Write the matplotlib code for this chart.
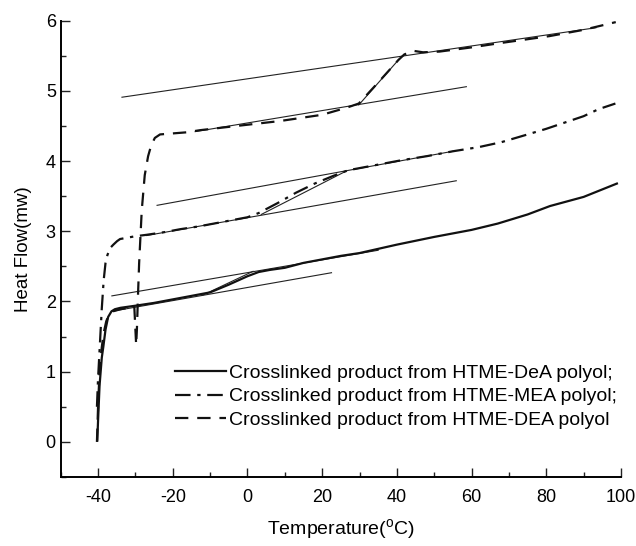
# DSC curves of crosslinked HTME polyol products
import matplotlib
matplotlib.use('Agg')
import matplotlib.pyplot as plt
from matplotlib.ticker import MultipleLocator

plt.rcParams['font.family'] = ['Liberation Sans', 'DejaVu Sans']
plt.rcParams['mathtext.fontset'] = 'custom'
plt.rcParams['mathtext.rm'] = 'Liberation Sans'
plt.rcParams['axes.unicode_minus'] = False

#----------------------
# Data
#----------------------

# HTME-DeA (solid)
dea_x = [-40.2, -40.0, -39.6, -39.0, -38.6, -38.0, -37.3, -36.4, -35.5, -34.0,
         -30.0, -25.0, -20.0, -15.0, -10.0, -5.0, 0.0, 3.0, 6.0, 10.0, 15.0,
         20.0, 25.0, 30.0, 40.0, 50.0, 60.0, 67.0, 75.0, 81.0, 90.0, 98.9]
dea_y = [0.02, 0.30, 0.80, 1.20, 1.35, 1.60, 1.78, 1.86, 1.89, 1.91,
         1.94, 1.98, 2.03, 2.08, 2.13, 2.24, 2.36, 2.42, 2.45, 2.48, 2.55,
         2.60, 2.65, 2.69, 2.81, 2.92, 3.02, 3.11, 3.24, 3.36, 3.49, 3.68]

# HTME-MEA (dash-dot)
mea_x = [-40.3, -40.0, -39.5, -39.0, -38.5, -38.0, -37.5, -36.8, -35.9, -34.9,
         -34.1, -30.0, -27.0, -22.0, -18.0, -13.0, -8.0, -3.0, 0.0, 3.0, 8.0,
         13.0, 18.0, 23.0, 27.0, 30.0, 35.0, 41.0, 48.0, 55.0, 62.0, 68.0,
         75.0, 80.0, 85.0, 90.0, 94.0, 98.5]
mea_y = [0.50, 0.90, 1.40, 1.90, 2.30, 2.55, 2.66, 2.76, 2.81, 2.86,
         2.89, 2.93, 2.95, 2.99, 3.03, 3.07, 3.12, 3.17, 3.20, 3.26, 3.40,
         3.55, 3.68, 3.79, 3.87, 3.90, 3.95, 4.01, 4.07, 4.14, 4.20, 4.27,
         4.38, 4.46, 4.55, 4.64, 4.74, 4.82]

# HTME-DEA (dashed)
dea2_x = [-40.3, -40.0, -39.6, -39.0, -38.5, -37.8, -37.0, -36.0, -34.0, -32.0,
          -30.3, -30.0, -29.8, -29.6, -29.3, -29.0, -28.3, -27.5, -26.6, -25.8,
          -24.8, -23.4, -16.3, -12.75, -3.0, 8.6, 20.0, 26.5, 29.8, 35.0,
          40.4, 42.0, 44.5, 47.0, 51.4, 60.0, 67.5, 80.8, 90.0, 98.6]
dea2_y = [0.00, 0.50, 1.00, 1.35, 1.55, 1.72, 1.82, 1.86, 1.89, 1.91,
          1.93, 1.60, 1.38, 1.60, 2.10, 2.55, 3.30, 3.80, 4.07, 4.22,
          4.33, 4.38, 4.41, 4.44, 4.50, 4.57, 4.66, 4.76, 4.82, 5.12,
          5.44, 5.52, 5.57, 5.55, 5.56, 5.62, 5.68, 5.78, 5.87, 5.98]

# tangent construction lines (x0, x1, y0, y1)
tan_x = [[-36.3, 35.0], [-36.3, 22.5], [-12.0, 1.5],
         [-24.2, 55.0], [-27.0, 55.9], [3.7, 26.5],
         [-33.6, 93.3], [-14.0, 58.6], [29.8, 40.4]]
tan_y = [[2.08, 2.73], [1.86, 2.41], [2.09, 2.43],
         [3.37, 4.14], [2.94, 3.72], [3.24, 3.86],
         [4.91, 5.90], [4.42, 5.06], [4.80, 5.44]]

labels = ['Crosslinked product from HTME-DeA polyol;',
          'Crosslinked product from HTME-MEA polyol;',
          'Crosslinked product from HTME-DEA polyol']

#----------------------
# Plotagem
#----------------------
fig = plt.figure(figsize=(6.36, 5.46), dpi=100)
ax = fig.add_axes([60.7/636, 1 - 477/546, (621 - 60.7)/636, (477 - 20.7)/546])

for xs, ys in zip(tan_x, tan_y):
    ax.plot(xs, ys, color='#222222', lw=0.8)

ax.plot(dea_x, dea_y, color='#111111', lw=1.6, label=labels[0])
ax.plot(mea_x, mea_y, color='#111111', lw=1.6, dashes=[7, 3, 1.5, 3], label=labels[1])
ax.plot(dea2_x, dea2_y, color='#111111', lw=1.6, dashes=[6, 4], label=labels[2])

ax.set_xlim(-50, 100)
ax.set_ylim(-0.5, 6)
ax.xaxis.set_minor_locator(MultipleLocator(10))
ax.yaxis.set_minor_locator(MultipleLocator(0.5))
ax.set_xticks(range(-40, 101, 20))
ax.set_yticks(range(0, 7))
ax.tick_params(which='both', direction='in', labelsize=13, color='#222222')
ax.tick_params(which='major', length=6.5, width=1)
ax.tick_params(which='minor', length=3.5, width=1)
ax.tick_params(axis='x', pad=9)
ax.spines['top'].set_visible(False)
ax.spines['right'].set_visible(False)
ax.spines['left'].set_linewidth(1.4)
ax.spines['bottom'].set_linewidth(1.4)

ax.set_xlabel(r'Temperature($^{\rm o}$C)', fontsize=14, labelpad=8)
ax.set_ylabel('Heat Flow(mw)', fontsize=13.5, labelpad=10)

ax.legend(loc='upper left', bbox_to_anchor=(0.204, 0.247), frameon=False,
          fontsize=14, handlelength=2.6, handletextpad=0.2,
          labelspacing=0.3, borderpad=0, borderaxespad=0)

plt.savefig('out.png', dpi=100)
